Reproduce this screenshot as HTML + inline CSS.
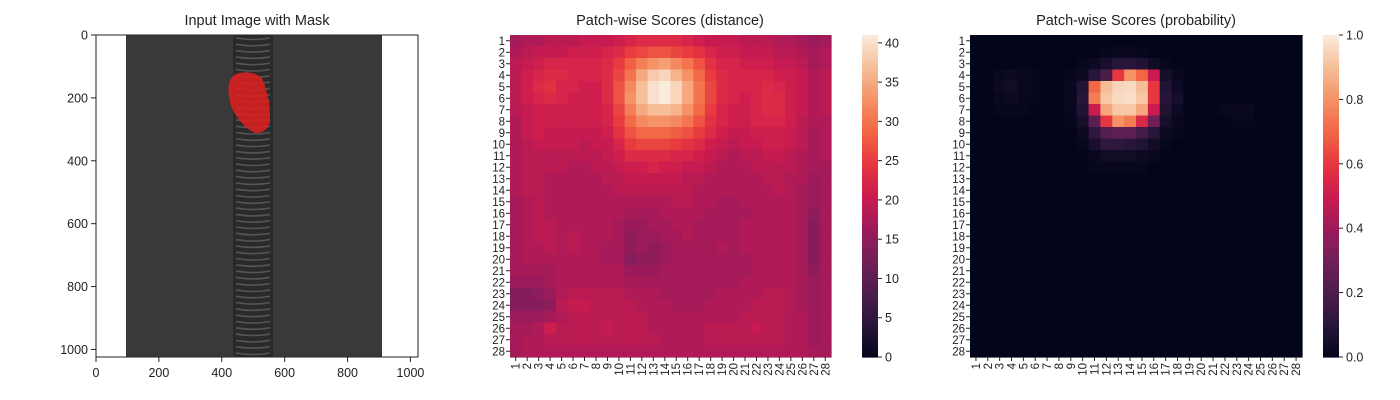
<!DOCTYPE html>
<html><head><meta charset="utf-8"><style>
body{margin:0;background:#fff;}
svg{display:block;font-family:"Liberation Sans",Arial,sans-serif;}
</style></head><body>
<svg id="fig" width="1400" height="400" viewBox="0 0 1400 400" xmlns="http://www.w3.org/2000/svg">
<g id="p1">
  <text x="257" y="25" font-size="14.5" text-anchor="middle" fill="#222">Input Image with Mask</text>
  <rect x="96" y="35" width="322" height="322" fill="#fff"/>
  <rect x="126" y="35" width="256" height="322" fill="#393939"/>
  <rect x="233" y="35" width="40" height="322" fill="#2a2a2a"/>
  <g id="teeth"></g>
  <path d="M236 74 Q250 69 262 78 Q271 100 270 122 Q266 134 255 133 Q240 126 231 106 Q224 80 236 74 Z" fill="#e02020" opacity="0.85"/>
  <rect x="96" y="35" width="322" height="322" fill="none" stroke="#222" stroke-width="1"/>
  <g id="p1ticks"></g>
</g>
<g id="p2">
  <text x="670" y="25" font-size="14.5" text-anchor="middle" fill="#222">Patch-wise Scores (distance)</text>
  <g id="hm2"></g><g id="cb2"></g>
</g>
<g id="p3">
  <text x="1136" y="25" font-size="14.5" text-anchor="middle" fill="#222">Patch-wise Scores (probability)</text>
  <g id="hm3"></g><g id="cb3"></g>
</g>
</svg>
<script>
const distance = [
[17,18,18,19,19,19,20,20,20,21,22,23,23,23,23,22,21,20,20,20,19,19,19,18,18,17,16,17],
[18,19,20,20,20,21,21,21,22,23,25,26,27,27,26,25,24,22,21,21,20,20,20,19,19,18,17,18],
[19,20,21,22,22,22,22,22,23,25,28,31,33,34,32,30,27,24,22,22,21,21,21,20,20,19,17,18],
[19,21,22,23,23,22,22,22,23,26,30,35,38,39,36,33,29,25,23,22,22,22,22,21,21,20,18,19],
[19,21,23,24,22,22,21,21,23,27,32,37,40,41,39,35,30,26,23,22,22,22,23,22,21,20,18,19],
[19,21,22,23,22,21,21,21,23,27,33,37,40,41,39,35,30,26,23,22,21,22,23,23,21,20,18,19],
[19,20,21,21,21,21,21,21,22,26,31,35,37,37,36,33,29,25,22,21,21,22,23,23,21,20,18,19],
[18,20,21,21,21,21,21,21,22,25,29,32,33,33,32,30,27,24,22,21,21,22,22,22,21,19,18,18],
[18,20,21,20,20,20,20,20,21,24,27,29,29,29,28,27,25,23,21,20,20,21,21,21,20,19,17,18],
[18,19,20,20,20,20,19,20,20,22,25,26,26,26,25,24,23,21,20,19,20,20,21,21,20,19,17,18],
[18,19,19,19,19,19,19,19,20,21,23,23,23,23,22,22,21,20,19,18,19,19,20,20,19,18,17,18],
[18,19,19,19,19,18,18,19,19,20,21,21,22,21,21,20,20,19,18,18,18,19,19,19,19,18,17,17],
[18,19,19,18,18,18,18,18,19,19,20,20,20,20,20,19,19,18,18,18,18,18,19,19,18,18,16,17],
[18,19,19,18,18,18,18,18,18,19,19,19,19,19,19,19,18,18,18,18,18,18,18,19,18,17,16,17],
[17,18,19,18,18,18,18,18,18,18,18,18,18,18,19,19,18,18,17,17,18,18,18,18,18,17,16,17],
[17,18,19,18,18,18,18,18,18,18,17,17,17,18,18,18,18,17,17,17,17,18,18,18,18,17,15,17],
[17,18,19,19,18,18,18,18,18,17,16,16,17,17,18,18,17,17,17,17,18,18,18,18,18,17,14,17],
[17,18,19,19,18,19,18,18,18,17,15,16,16,17,17,18,17,17,17,17,18,18,18,18,18,17,14,17],
[17,18,18,19,18,19,18,18,17,17,15,16,15,16,17,17,17,17,18,17,18,18,18,18,18,17,14,17],
[17,18,18,18,18,18,18,18,17,17,14,15,15,16,17,17,17,17,17,17,17,18,18,18,18,17,14,17],
[17,17,17,17,18,18,18,18,18,18,16,16,16,17,17,17,17,17,17,17,17,18,18,18,18,17,15,17],
[16,16,16,17,18,18,18,18,18,18,17,17,17,17,17,17,17,17,17,17,18,18,18,18,18,17,16,17],
[14,14,15,16,18,19,19,19,19,19,18,18,18,17,17,17,17,17,18,18,18,18,19,19,18,17,16,17],
[14,14,14,15,19,20,20,19,19,19,19,18,18,18,17,17,17,18,18,18,18,19,19,19,18,17,16,17],
[16,16,16,17,18,19,19,19,19,19,19,19,18,18,18,18,18,18,18,18,19,19,19,19,18,18,16,17],
[17,17,18,21,19,19,19,19,20,19,19,19,18,18,18,18,18,19,19,19,19,20,19,19,18,18,16,17],
[17,18,18,19,19,19,19,19,19,19,19,19,19,18,18,18,18,19,19,19,19,19,19,19,18,18,16,17],
[17,18,18,18,18,18,18,18,18,18,18,18,18,18,18,18,18,18,18,18,18,18,18,18,18,18,17,17]
];
const probability = [
[0,0,0,0,0,0,0,0,0,0,0,0,0,0,0,0,0,0,0,0,0,0,0,0,0,0,0,0],
[0,0,0,0,0,0,0,0,0,0,0,0.01,0.02,0.02,0.01,0,0,0,0,0,0,0,0,0,0,0,0,0],
[0,0,0,0,0,0,0,0,0,0.01,0.03,0.06,0.1,0.1,0.08,0.04,0.01,0,0,0,0,0,0,0,0,0,0,0],
[0,0,0.02,0.03,0.02,0.01,0,0,0.01,0.03,0.1,0.2,0.6,0.8,0.7,0.5,0.05,0.02,0,0,0,0,0,0,0,0,0,0],
[0,0,0.03,0.04,0.02,0.01,0,0,0.02,0.08,0.7,0.9,0.95,0.96,0.9,0.6,0.08,0.03,0,0,0,0,0,0,0,0,0,0],
[0,0,0.02,0.03,0.01,0.01,0,0,0.02,0.1,0.75,0.92,0.96,0.97,0.92,0.6,0.1,0.05,0,0,0,0,0,0,0,0,0,0],
[0,0,0.01,0.01,0.01,0,0,0,0.02,0.08,0.5,0.85,0.92,0.92,0.85,0.5,0.08,0.03,0,0,0,0.01,0.02,0.02,0,0,0,0],
[0,0,0,0,0,0,0,0,0.01,0.05,0.25,0.6,0.8,0.75,0.55,0.3,0.05,0.02,0,0,0,0,0.01,0.01,0,0,0,0],
[0,0,0,0,0,0,0,0,0,0.03,0.12,0.22,0.25,0.25,0.18,0.1,0.03,0.01,0,0,0,0,0,0,0,0,0,0],
[0,0,0,0,0,0,0,0,0,0.01,0.06,0.12,0.12,0.1,0.08,0.04,0.01,0,0,0,0,0,0,0,0,0,0,0],
[0,0,0,0,0,0,0,0,0,0,0.02,0.04,0.04,0.04,0.03,0.02,0,0,0,0,0,0,0,0,0,0,0,0],
[0,0,0,0,0,0,0,0,0,0,0.01,0.01,0.02,0.01,0.01,0,0,0,0,0,0,0,0,0,0,0,0,0],
[0,0,0,0,0,0,0,0,0,0,0,0,0,0,0,0,0,0,0,0,0,0,0,0,0,0,0,0],
[0,0,0,0,0,0,0,0,0,0,0,0,0,0,0,0,0,0,0,0,0,0,0,0,0,0,0,0],
[0,0,0,0,0,0,0,0,0,0,0,0,0,0,0,0,0,0,0,0,0,0,0,0,0,0,0,0],
[0,0,0,0,0,0,0,0,0,0,0,0,0,0,0,0,0,0,0,0,0,0,0,0,0,0,0,0],
[0,0,0,0,0,0,0,0,0,0,0,0,0,0,0,0,0,0,0,0,0,0,0,0,0,0,0,0],
[0,0,0,0,0,0,0,0,0,0,0,0,0,0,0,0,0,0,0,0,0,0,0,0,0,0,0,0],
[0,0,0,0,0,0,0,0,0,0,0,0,0,0,0,0,0,0,0,0,0,0,0,0,0,0,0,0],
[0,0,0,0,0,0,0,0,0,0,0,0,0,0,0,0,0,0,0,0,0,0,0,0,0,0,0,0],
[0,0,0,0,0,0,0,0,0,0,0,0,0,0,0,0,0,0,0,0,0,0,0,0,0,0,0,0],
[0,0,0,0,0,0,0,0,0,0,0,0,0,0,0,0,0,0,0,0,0,0,0,0,0,0,0,0],
[0,0,0,0,0,0,0,0,0,0,0,0,0,0,0,0,0,0,0,0,0,0,0,0,0,0,0,0],
[0,0,0,0,0,0,0,0,0,0,0,0,0,0,0,0,0,0,0,0,0,0,0,0,0,0,0,0],
[0,0,0,0,0,0,0,0,0,0,0,0,0,0,0,0,0,0,0,0,0,0,0,0,0,0,0,0],
[0,0,0,0,0,0,0,0,0,0,0,0,0,0,0,0,0,0,0,0,0,0,0,0,0,0,0,0],
[0,0,0,0,0,0,0,0,0,0,0,0,0,0,0,0,0,0,0,0,0,0,0,0,0,0,0,0],
[0,0,0,0,0,0,0,0,0,0,0,0,0,0,0,0,0,0,0,0,0,0,0,0,0,0,0,0]
];
const imageTicks = [0,200,400,600,800,1000];
const distTicks = [0,5,10,15,20,25,30,35,40];
const probTicks = [0,0.2,0.4,0.6,0.8,1.0];
const probTickLabels = ["0.0","0.2","0.4","0.6","0.8","1.0"];

const NS="http://www.w3.org/2000/svg";
function mk(tag,attrs,parent){const e=document.createElementNS(NS,tag);for(const k in attrs)e.setAttribute(k,attrs[k]);parent.appendChild(e);return e;}
const stops=[[0,[3,5,26]],[0.1,[40,22,58]],[0.2,[76,29,75]],[0.3,[113,31,87]],[0.4,[158,26,91]],[0.5,[203,27,79]],[0.6,[230,54,64]],[0.7,[242,102,68]],[0.8,[245,145,101]],[0.9,[246,190,152]],[1,[250,235,221]]];
function rocket(t){t=Math.max(0,Math.min(1,t));for(let i=1;i<stops.length;i++){if(t<=stops[i][0]){const a=stops[i-1],b=stops[i];const f=(t-a[0])/(b[0]-a[0]);const c=a[1].map((v,j)=>Math.round(v+(b[1][j]-v)*f));return `rgb(${c[0]},${c[1]},${c[2]})`;}}return 'rgb(250,235,221)';}

// panel 1 ticks
const p1=document.getElementById('p1ticks');
const ix=v=>96+v*(322/1024), iy=v=>35+v*(322/1024);
imageTicks.forEach(v=>{
  mk('line',{x1:ix(v),x2:ix(v),y1:357,y2:362,stroke:'#222'},p1);
  const t=mk('text',{x:ix(v),y:377,'font-size':12.5,'text-anchor':'middle',fill:'#222'},p1);t.textContent=v;
  
  
  mk('line',{x1:91,x2:96,y1:iy(v),y2:iy(v),stroke:'#222'},p1);
  const u=mk('text',{x:88,y:iy(v)+4.5,'font-size':12.5,'text-anchor':'end',fill:'#222'},p1);u.textContent=v;
  
  
});
// zipper teeth
const tg=document.getElementById('teeth');
for(let y=38;y<357;y+=6.3){mk('path',{d:`M236 ${y} Q253 ${y+3} 270 ${y}`,stroke:'#555',fill:'none','stroke-width':1.6},tg);}

function heatmap(gid,cbid,data,x0,w,vmax,ticks,labels,cbx,name){
  const g=document.getElementById(gid);
  const n=28,y0=35,h=322,cw=w/n,ch=h/n;
  const cx=j=>x0+j*cw, cy=i=>y0+i*ch;
  data.forEach((row,i)=>row.forEach((v,j)=>{
    const r=mk('rect',{x:cx(j),y:cy(i),width:cw+0.6,height:ch+0.6,fill:rocket(v/vmax)},g);
    
    
  }));
  for(let k=0;k<n;k++){
    mk('line',{x1:x0-4,x2:x0,y1:cy(k)+ch/2,y2:cy(k)+ch/2,stroke:'#222'},g);
    const t=mk('text',{x:x0-5,y:cy(k)+ch/2+4,'font-size':11.5,'text-anchor':'end',fill:'#222'},g);t.textContent=k+1;
    
    
    const xx=cx(k)+cw/2;
    mk('line',{x1:xx,x2:xx,y1:357,y2:361,stroke:'#222'},g);
    const u=mk('text',{x:0,y:0,'font-size':11.5,'text-anchor':'end',fill:'#222',transform:`translate(${xx+4},363) rotate(-90)`},g);u.textContent=k+1;
    
    
  }
  const c=document.getElementById(cbid);
  const steps=100;
  for(let s=0;s<steps;s++){
    const r=mk('rect',{x:cbx,y:357-(s+1)*322/steps,width:16,height:322/steps+0.6,fill:rocket((s+0.5)/steps)},c);
    
    
  }
  ticks.forEach((v,k)=>{
    const y=357-v/vmax*322;
    mk('line',{x1:cbx+16,x2:cbx+20,y1:y,y2:y,stroke:'#222'},c);
    const t=mk('text',{x:cbx+23,y:y+4.5,'font-size':12.5,fill:'#222'},c);t.textContent=labels[k];
    
    
  });
}
heatmap('hm2','cb2',distance,510,321,41,distTicks,distTicks.map(String),862,'distance');
heatmap('hm3','cb3',probability,970,332,1,probTicks,probTickLabels,1323,'probability');
</script>
</body></html>
